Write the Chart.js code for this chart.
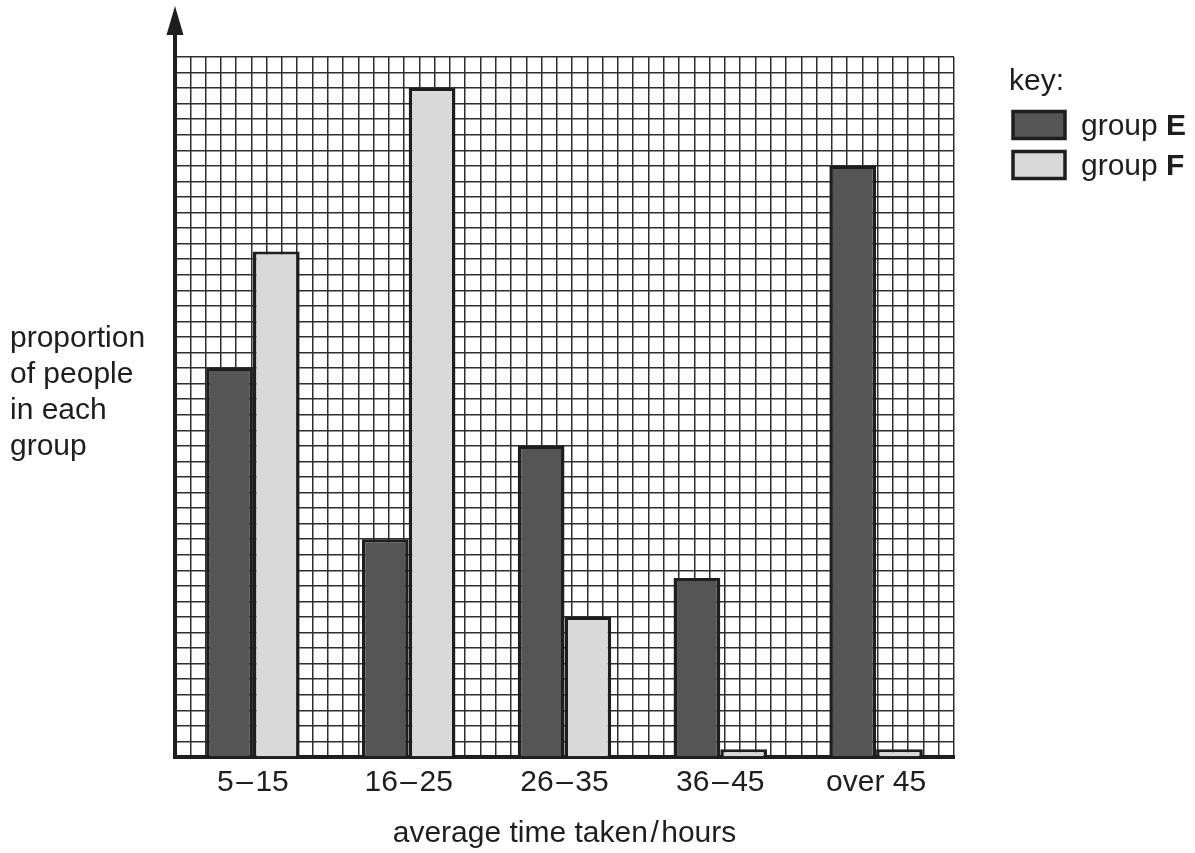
<!DOCTYPE html>
<html>
<head>
<meta charset="utf-8">
<script src="https://cdn.jsdelivr.net/npm/chart.js@4/dist/chart.umd.min.js"></script>
<style>
  html, body { margin: 0; padding: 0; background: #fff; }
  #wrap { width: 1195px; height: 853px; }
</style>
</head>
<body>
<div id="wrap"><canvas id="timeChart" width="1195" height="853"></canvas></div>
<script>
// categories and values (in grid squares)
const categories = ['5\u200a\u2013\u200a15', '16\u200a\u2013\u200a25', '26\u200a\u2013\u200a35', '36\u200a\u2013\u200a45', 'over 45'];
const groupE = [25, 14, 20, 11.5, 38];
const groupF = [32.5, 43, 9, 0.5, 0.5];
const yMax = 45;
const gridColumns = 50;
const yTitleLines = ['proportion', 'of people', 'in each', 'group'];
const xTitle = 'average time taken\u200a/\u200ahours';

const FONT = '"Liberation Sans", Arial, sans-serif';
const INK = '#1e1e1e';
const DARK = '#555555';
const LIGHT = '#d9d9d9';
const barBorder = { top: 3, left: 3.5, right: 3.5, bottom: 0 };

// arrow on y axis, side label and the key
const extras = {
    id: 'extras',
    afterDraw(chart) {
        const { ctx, chartArea } = chart;
        const x = chartArea.left;
        ctx.save();
        ctx.strokeStyle = INK;
        ctx.lineWidth = 4;
        ctx.beginPath();
        ctx.moveTo(x, chartArea.top);
        ctx.lineTo(x, 30);
        ctx.stroke();
        ctx.fillStyle = INK;
        ctx.beginPath();
        ctx.moveTo(x, 6);
        ctx.lineTo(x - 8.5, 35);
        ctx.lineTo(x + 8.5, 35);
        ctx.closePath();
        ctx.fill();

        ctx.font = '30px ' + FONT;
        ctx.textAlign = 'left';
        ctx.textBaseline = 'alphabetic';
        yTitleLines.forEach((t, i) => ctx.fillText(t, 10, 347 + i * 36));

        // key
        ctx.fillText('key:', 1009, 90);
        const rows = [
            { fill: DARK, letter: 'E', top: 110 },
            { fill: LIGHT, letter: 'F', top: 150 },
        ];
        rows.forEach((r) => {
            ctx.fillStyle = r.fill;
            ctx.fillRect(1013, r.top + 1.5, 52, 27);
            ctx.strokeStyle = INK;
            ctx.lineWidth = 3.5;
            ctx.strokeRect(1013, r.top + 1.5, 52, 27);
            ctx.fillStyle = INK;
            ctx.font = '30px ' + FONT;
            const base = r.top + 25;
            ctx.fillText('group ', 1081, base);
            const w = ctx.measureText('group ').width;
            ctx.font = 'bold 30px ' + FONT;
            ctx.fillText(r.letter, 1081 + w, base);
        });
        ctx.restore();
    },
};

new Chart(document.getElementById('timeChart'), {
    type: 'bar',
    data: {
        labels: categories,
        datasets: [
            {
                label: 'group E',
                data: groupE,
                backgroundColor: DARK,
                borderColor: INK,
                borderWidth: barBorder,
            },
            {
                label: 'group F',
                data: groupF,
                backgroundColor: LIGHT,
                borderColor: INK,
                borderWidth: barBorder,
            },
        ],
    },
    options: {
        responsive: false,
        animation: false,
        layout: { padding: { left: 175, right: 241, top: 57, bottom: 0 } },
        datasets: { bar: { categoryPercentage: 0.6, barPercentage: 1.0 } },
        plugins: {
            legend: { display: false },
            tooltip: { enabled: false },
        },
        scales: {
            x: {
                position: 'bottom',
                grid: { display: false, drawTicks: false },
                border: { display: true, color: INK, width: 4 },
                ticks: {
                    color: INK,
                    padding: 8,
                    maxRotation: 0,
                    font: { family: FONT, size: 30 },
                },
                title: {
                    display: true,
                    text: xTitle,
                    color: INK,
                    padding: { top: 0, bottom: 1 },
                    font: { family: FONT, size: 30 },
                },
                afterFit: (scale) => { scale.height = 96; },
            },
            xg: {
                type: 'linear',
                position: 'top',
                min: 0,
                max: gridColumns,
                grid: { color: '#2e2e2e', lineWidth: 1.5, drawTicks: false },
                border: { display: false },
                ticks: { display: false, stepSize: 1 },
                afterFit: (scale) => { scale.height = 0; },
            },
            y: {
                min: 0,
                max: yMax,
                grid: { color: '#2e2e2e', lineWidth: 1.5, drawTicks: false },
                border: { display: true, color: INK, width: 4 },
                ticks: { display: false, stepSize: 1 },
                afterFit: (scale) => { scale.width = 0; },
            },
        },
    },
    plugins: [extras],
});
</script>
</body>
</html>
